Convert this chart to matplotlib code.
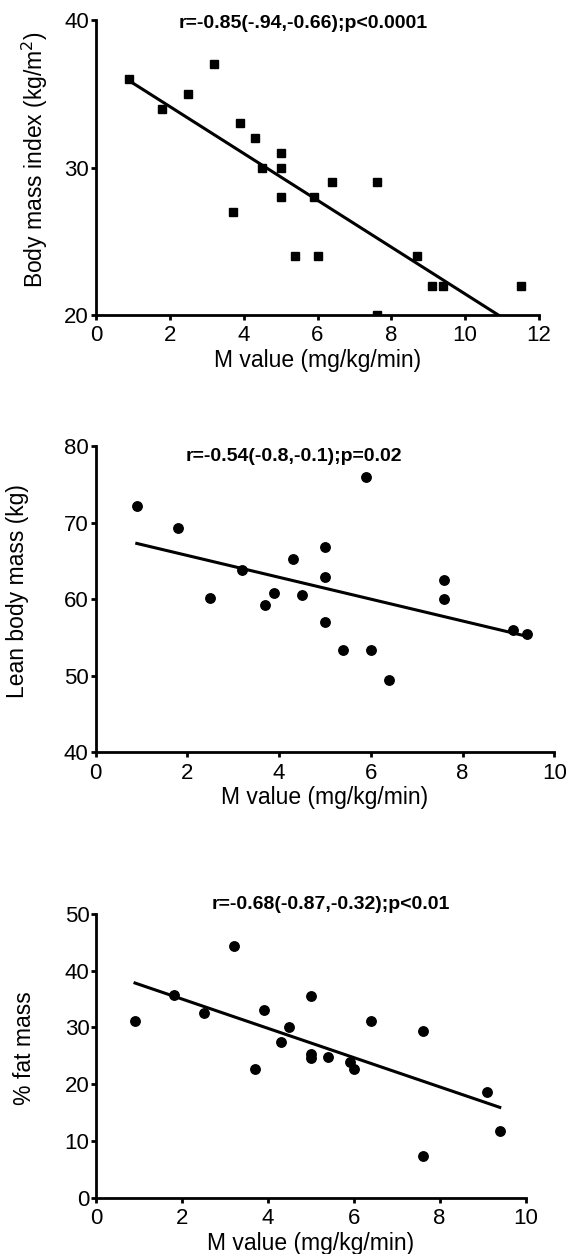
import numpy as np
import matplotlib
matplotlib.use('Agg')
import matplotlib.pyplot as plt

plt.rcParams['font.family'] = ['Liberation Sans', 'DejaVu Sans']

# M value (mg/kg/min) for each subject
m_bmi = [0.9, 1.8, 2.5, 3.2, 3.7, 3.9, 4.3, 4.5, 5.0, 5.0, 5.0,
         5.4, 5.9, 6.0, 6.4, 7.6, 7.6, 8.7, 9.1, 9.4, 11.5]
bmi = [36, 34, 35, 37, 27, 33, 32, 30, 31, 30, 28,
       24, 28, 24, 29, 29, 20, 24, 22, 22, 22]

m_body = [0.9, 1.8, 2.5, 3.2, 3.7, 3.9, 4.3, 4.5, 5.0, 5.0, 5.0,
          5.4, 5.9, 6.0, 6.4, 7.6, 7.6, 9.1, 9.4]
lean_mass = [72.2, 69.3, 60.1, 63.8, 59.2, 60.8, 65.3, 60.6, 66.8, 62.9, 57.0,
             53.4, 76.0, 53.3, 49.4, 62.5, 60.0, 56.0, 55.4]
fat_pct = [31.2, 35.7, 32.5, 44.4, 22.6, 33.1, 27.5, 30.1, 35.6, 25.4, 24.7,
           24.8, 23.9, 22.6, 31.1, 29.4, 7.3, 18.7, 11.8]

titles = ['r=-0.85(-.94,-0.66);p<0.0001',
          'r=-0.54(-0.8,-0.1);p=0.02',
          'r=-0.68(-0.87,-0.32);p<0.01']
ylabels = ['Body mass index (kg/m$^2$)', 'Lean body mass (kg)', '% fat mass']

W, H = 569, 1254
fig = plt.figure(figsize=(W / 100, H / 100), dpi=100)


def px_axes(left, right, top, bottom):
    # axes rectangle from pixel edges
    return fig.add_axes([left / W, 1 - bottom / H, (right - left) / W, (bottom - top) / H])


def style(ax):
    for s in ['top', 'right']:
        ax.spines[s].set_visible(False)
    for s in ['left', 'bottom']:
        ax.spines[s].set_linewidth(2.0)
    ax.tick_params(width=2.0, length=3.5, labelsize=16, pad=1.5)
    ax.tick_params(axis='x', pad=4)
    ax.set_xlabel('M value (mg/kg/min)', fontsize=16.5, labelpad=2)


def scatter_fit(ax, x, y, marker, ms):
    ax.plot(x, y, linestyle='none', marker=marker, ms=ms, color='black', zorder=3)
    k, b = np.polyfit(x, y, 1)
    xs = np.array([min(x), max(x)])
    ax.plot(xs, k * xs + b, color='black', lw=2.2, zorder=2)


# panel 1: BMI
ax1 = px_axes(96, 539, 20, 315)
scatter_fit(ax1, m_bmi, bmi, 's', 5.3)
ax1.set_xlim(0, 12)
ax1.set_ylim(20, 40)
ax1.set_xticks(range(0, 13, 2))
ax1.set_yticks([20, 30, 40])
style(ax1)
ax1.set_ylabel(ylabels[0], fontsize=16.5)
ax1.yaxis.set_label_coords(-0.139, 0.527)
ax1.yaxis.label.set_va('center')

# panel 2: lean body mass
ax2 = px_axes(95.5, 554.3, 446, 752.3)
scatter_fit(ax2, m_body, lean_mass, 'o', 6.8)
ax2.set_xlim(0, 10)
ax2.set_ylim(40, 80)
ax2.set_xticks(range(0, 11, 2))
ax2.set_yticks(range(40, 81, 10))
style(ax2)
ax2.set_ylabel(ylabels[1], fontsize=16.5)
ax2.yaxis.set_label_coords(-0.170, 0.527)
ax2.yaxis.label.set_va('center')

# panel 3: % fat mass
ax3 = px_axes(96.4, 525.5, 914, 1197.7)
scatter_fit(ax3, m_body, fat_pct, 'o', 6.8)
ax3.set_xlim(0, 10)
ax3.set_ylim(0, 50)
ax3.set_xticks(range(0, 11, 2))
ax3.set_yticks(range(0, 51, 10))
style(ax3)
ax3.set_ylabel(ylabels[2], fontsize=16.5)
ax3.yaxis.set_label_coords(-0.168, 0.528)
ax3.yaxis.label.set_va('center')

# correlation annotations
for (cx, base), t in zip([(303, 28.3), (294, 460.7), (331, 909.3)], titles):
    fig.text(cx / W, 1 - base / H, t, ha='center', va='baseline',
             fontsize=14, fontweight='bold')

fig.savefig('out.png', dpi=100)
